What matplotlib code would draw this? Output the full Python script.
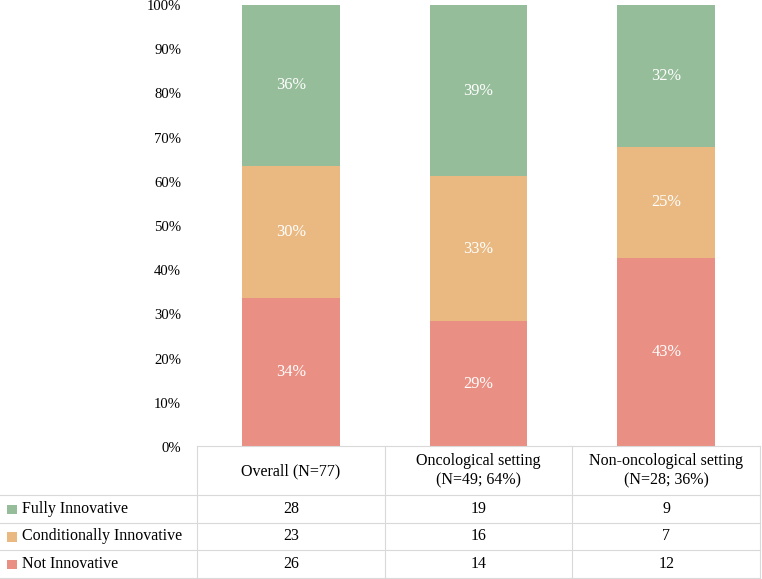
import numpy as np
import matplotlib.pyplot as plt
from matplotlib.patches import Rectangle
from matplotlib.ticker import PercentFormatter

plt.rcParams['font.family'] = ['Liberation Serif', 'DejaVu Serif']

# data
groups = ["Overall (N=77)", "Oncological setting\n(N=49; 64%)", "Non-oncological setting\n(N=28; 36%)"]
categories = ["Fully Innovative", "Conditionally Innovative", "Not Innovative"]
fully = [28, 19, 9]
conditionally = [23, 16, 7]
not_innov = [26, 14, 12]
colors = ["#95BD9A", "#E9B981", "#EA8F83"]
grid_col = "#D9D9D9"

W, H = 762, 579
fig = plt.figure(figsize=(W / 100, H / 100), dpi=100)

# pixel layout
ax_l, ax_r, ax_b, ax_t = 197, 760, 447, 5
ax = fig.add_axes([ax_l / W, (H - ax_b) / H, (ax_r - ax_l) / W, (ax_b - ax_t) / H])

counts = np.array([not_innov, conditionally, fully], dtype=float)  # bottom -> top
totals = counts.sum(axis=0)
shares = counts / totals
x = np.arange(len(groups)) + 0.5
bottom = np.zeros(len(groups))
for row, col in zip(shares, colors[::-1]):
    ax.bar(x, row, width=0.52, bottom=bottom, color=col)
    for xi, b, v in zip(x, bottom, row):
        ax.text(xi, b + v / 2, f"{round(v * 100)}%", ha="center", va="center",
                color="white", fontsize=11.8)
    bottom += row

ax.set_xlim(0, 3)
ax.set_ylim(0, 1)
ax.set_yticks(np.arange(0, 1.01, 0.1))
ax.yaxis.set_major_formatter(PercentFormatter(1.0, decimals=0))
ax.tick_params(axis="y", length=0, pad=11.5, labelsize=10.6)
ax.set_xticks([])
for s in ax.spines.values():
    s.set_visible(False)

# table drawn under the chart
tax = fig.add_axes([0, 0, 1, 1])
tax.set_xlim(0, W)
tax.set_ylim(H, 0)
tax.axis("off")

col_w = (ax_r - ax_l) / 3
col_edges = [ax_l + i * col_w for i in range(4)]
row_lines = [446, 495, 523, 550, 578]
lw = 0.8

tax.plot([ax_l, ax_r], [row_lines[0]] * 2, color=grid_col, lw=lw)
for yl in row_lines[1:]:
    tax.plot([0, ax_r], [yl, yl], color=grid_col, lw=lw)
for xe in col_edges:
    tax.plot([xe, xe], [row_lines[0], row_lines[-1]], color=grid_col, lw=lw)

for i, g in enumerate(groups):
    tax.text((col_edges[i] + col_edges[i + 1]) / 2, (row_lines[0] + row_lines[1]) / 2 + 0.5, g,
             ha="center", va="center", fontsize=11.5, linespacing=1.3)

table_vals = [fully, conditionally, not_innov]
for r, (cat, vals, col) in enumerate(zip(categories, table_vals, colors)):
    yc = (row_lines[r + 1] + row_lines[r + 2]) / 2
    tax.add_patch(Rectangle((7, yc - 4.5), 9.5, 9.5, color=col, lw=0))
    tax.text(22, yc, cat, ha="left", va="center", fontsize=11.5)
    for i, v in enumerate(vals):
        tax.text((col_edges[i] + col_edges[i + 1]) / 2, yc, str(v),
                 ha="center", va="center", fontsize=11.5)

fig.savefig("out.png", dpi=100)
